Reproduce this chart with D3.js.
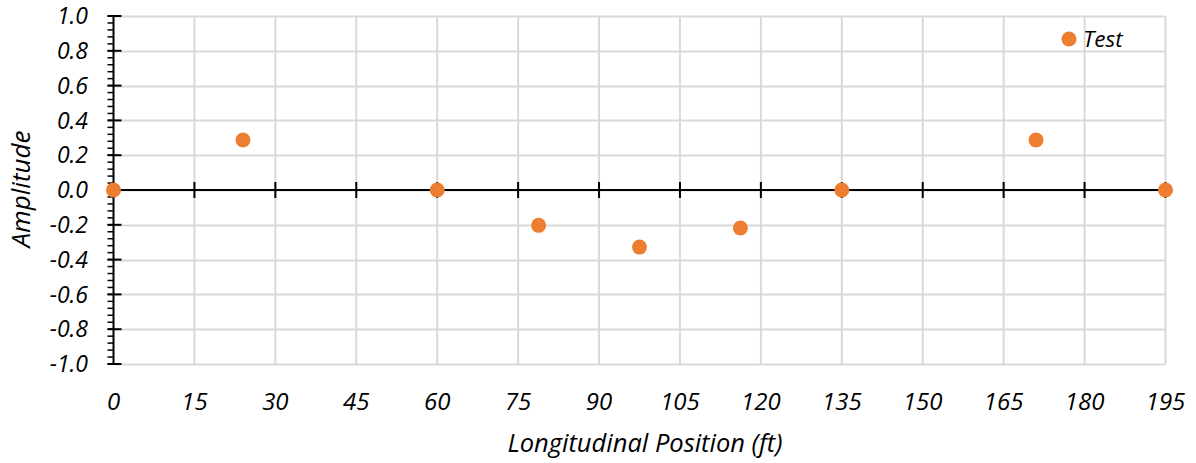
<!DOCTYPE html>
<html><head><meta charset="utf-8">
<script src="https://cdn.jsdelivr.net/npm/d3@7"></script>
<style>body{margin:0;background:#fff}svg{display:block}text{font-family:"Open Sans",sans-serif;font-style:italic;fill:#000}</style>
</head><body><svg id="c" width="1196" height="463"></svg>
<script>
const xPositions = [0, 24, 60, 78.8, 97.5, 116.2, 135, 171, 195];
const amplitudes = [0, 0.287, 0, -0.203, -0.328, -0.218, 0, 0.287, 0];
const xTicks = [0,15,30,45,60,75,90,105,120,135,150,165,180,195];
const yTicks = [-1,-0.8,-0.6,-0.4,-0.2,0,0.2,0.4,0.6,0.8,1];
const seriesName = "Test";

const svg = d3.select("#c");
const L=113.5, R=1165.5, T=16, B=364;
const x = d3.scaleLinear().domain([0,195]).range([L,R]);
const y = d3.scaleLinear().domain([-1,1]).range([B,T]);
const grid="#d9d9d9";
const fmt = d => d3.format(".1f")(d).replace("\u2212","-");

// grid
svg.append("g").selectAll("line").data(yTicks).join("line")
  .attr("x1",L).attr("x2",R).attr("y1",d=>Math.round(y(d))+0.5).attr("y2",d=>Math.round(y(d))+0.5)
  .attr("stroke",grid).attr("stroke-width",2);
svg.append("g").selectAll("line").data(xTicks.slice(1)).join("line")
  .attr("y1",T).attr("y2",B).attr("x1",d=>x(d)).attr("x2",d=>x(d))
  .attr("stroke",grid).attr("stroke-width",2);

// y axis
const yMinor = d3.range(-1,1.0001,0.04);
const ya = svg.append("g");
ya.append("line").attr("x1",L).attr("x2",L).attr("y1",T).attr("y2",B).attr("stroke","#000").attr("stroke-width",2);
ya.selectAll("line.mn").data(yMinor).join("line").attr("class","mn")
  .attr("x1",L-6).attr("x2",L).attr("y1",d=>y(d)).attr("y2",d=>y(d)).attr("stroke","#000").attr("stroke-width",1.5);
ya.selectAll("line.mj").data(yTicks).join("line").attr("class","mj")
  .attr("x1",L-6).attr("x2",L+8).attr("y1",d=>y(d)).attr("y2",d=>y(d)).attr("stroke","#000").attr("stroke-width",2);
ya.selectAll("text").data(yTicks).join("text")
  .attr("x",88).attr("y",d=>y(d)).attr("dy","0.36em").attr("text-anchor","end")
  .style("font-size","23px").text(fmt);

// x axis on zero
const xa = svg.append("g");
xa.append("line").attr("x1",L).attr("x2",R).attr("y1",y(0)).attr("y2",y(0)).attr("stroke","#000").attr("stroke-width",2);
xa.selectAll("line.t").data(xTicks).join("line").attr("class","t")
  .attr("x1",d=>x(d)).attr("x2",d=>x(d)).attr("y1",y(0)-8).attr("y2",y(0)+8).attr("stroke","#000").attr("stroke-width",2);
xa.selectAll("text").data(xTicks).join("text")
  .attr("x",d=>x(d)).attr("y",410).attr("text-anchor","middle")
  .style("font-size","24px").text(d=>d);

// points
svg.append("g").selectAll("circle").data(xPositions.map((v,i)=>[v,amplitudes[i]])).join("circle")
  .attr("cx",d=>x(d[0])).attr("cy",d=>y(d[1])).attr("r",7.5).attr("fill","#ED7D31");

// titles
svg.append("text").attr("x",645).attr("y",452).attr("text-anchor","middle").style("font-size","25.5px").text("Longitudinal Position (ft)");
svg.append("text").attr("transform","translate(30,189) rotate(-90)").attr("text-anchor","middle").style("font-size","26px").text("Amplitude");

// legend
svg.append("circle").attr("cx",1069).attr("cy",39).attr("r",7.5).attr("fill","#ED7D31");
svg.append("text").attr("x",1083).attr("y",39).attr("dy","0.36em").style("font-size","22.5px").text(seriesName);
</script></body></html>
